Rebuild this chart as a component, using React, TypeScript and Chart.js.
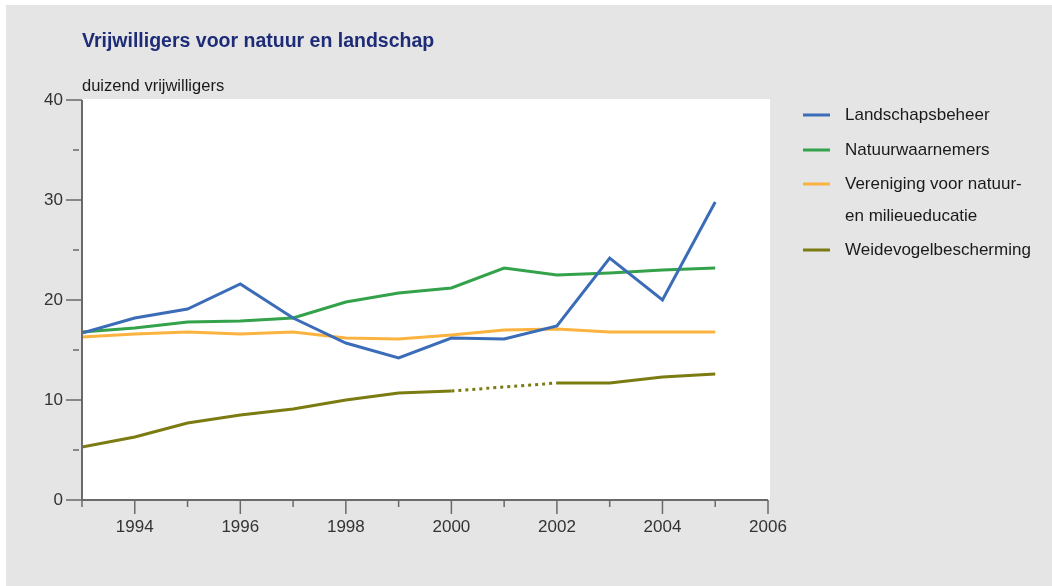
import React, { useEffect, useRef } from 'react';
import { Chart, registerables } from 'chart.js';

Chart.register(...registerables);

const years = [1993, 1994, 1995, 1996, 1997, 1998, 1999, 2000, 2001, 2002, 2003, 2004, 2005];
const landschapsbeheer = [16.7, 18.2, 19.1, 21.6, 18.2, 15.7, 14.2, 16.2, 16.1, 17.4, 24.2, 20.0, 29.8];
const natuurwaarnemers = [16.8, 17.2, 17.8, 17.9, 18.2, 19.8, 20.7, 21.2, 23.2, 22.5, 22.7, 23.0, 23.2];
const verenigingNME = [16.3, 16.6, 16.8, 16.6, 16.8, 16.2, 16.1, 16.5, 17.0, 17.1, 16.8, 16.8, 16.8];
const weidevogelbescherming = [5.3, 6.3, 7.7, 8.5, 9.1, 10.0, 10.7, 10.9, null, 11.7, 11.7, 12.3, 12.6];

const seriesLabels = ['Landschapsbeheer', 'Natuurwaarnemers', 'Vereniging voor natuur- en milieueducatie', 'Weidevogelbescherming'];
const legendLines = [['Landschapsbeheer'], ['Natuurwaarnemers'], ['Vereniging voor natuur-', 'en milieueducatie'], ['Weidevogelbescherming']];
const seriesColors = ['#3b6cb7', '#33a24a', '#fbb33f', '#7b7b12'];

const xMajorTicks = [1994, 1996, 1998, 2000, 2002, 2004, 2006];
const xMinorTicks = [1993, 1995, 1997, 1999, 2001, 2003, 2005];
const yMajorTicks = [0, 10, 20, 30, 40];
const yMinorTicks = [5, 15, 25, 35];

const titleText = 'Vrijwilligers voor natuur en landschap';
const unitText = 'duizend vrijwilligers';

const FONT = '"Liberation Sans", Arial, sans-serif';

const decorPlugin = {
  id: 'decor',
  beforeDraw(chart: any) {
    const { ctx, chartArea: a, width, height } = chart;
    ctx.save();
    ctx.fillStyle = '#ffffff';
    ctx.fillRect(0, 0, width, height);
    ctx.fillStyle = '#e5e5e5';
    ctx.fillRect(6, 5, width - 6, height - 5);
    ctx.fillStyle = '#ffffff';
    ctx.fillRect(a.left, a.top - 1, a.right - a.left + 2, a.bottom - a.top + 1);
    ctx.restore();
  },
  afterDraw(chart: any) {
    const { ctx, chartArea: a } = chart;
    const xs = chart.scales.x;
    const ys = chart.scales.y;
    ctx.save();
    ctx.strokeStyle = '#6a6a6a';
    ctx.lineWidth = 2;
    ctx.beginPath();
    ctx.moveTo(a.left, a.top);
    ctx.lineTo(a.left, a.bottom);
    ctx.lineTo(a.right, a.bottom);
    ctx.stroke();
    ctx.lineWidth = 1.5;
    ctx.beginPath();
    xMajorTicks.forEach((v) => {
      const px = xs.getPixelForValue(v);
      ctx.moveTo(px, a.bottom);
      ctx.lineTo(px, a.bottom + 14);
    });
    xMinorTicks.forEach((v) => {
      const px = xs.getPixelForValue(v);
      ctx.moveTo(px, a.bottom);
      ctx.lineTo(px, a.bottom + 7);
    });
    yMajorTicks.forEach((v) => {
      const py = ys.getPixelForValue(v);
      ctx.moveTo(a.left - 16, py);
      ctx.lineTo(a.left, py);
    });
    yMinorTicks.forEach((v) => {
      const py = ys.getPixelForValue(v);
      ctx.moveTo(a.left - 9, py);
      ctx.lineTo(a.left - 3, py);
    });
    ctx.stroke();

    // title and unit
    ctx.textAlign = 'left';
    ctx.textBaseline = 'alphabetic';
    ctx.fillStyle = '#1e2c78';
    ctx.font = `bold 19.5px ${FONT}`;
    ctx.fillText(titleText, a.left, 47);
    ctx.fillStyle = '#1a1a1a';
    ctx.font = `16.5px ${FONT}`;
    ctx.fillText(unitText, a.left, 91);

    // legend
    const legendY = [115, 150, 184, 250];
    ctx.font = `17px ${FONT}`;
    ctx.textBaseline = 'middle';
    chart.data.datasets.forEach((ds: any, i: number) => {
      const y = legendY[i];
      ctx.strokeStyle = ds.borderColor;
      ctx.lineWidth = 3;
      ctx.beginPath();
      ctx.moveTo(803, y);
      ctx.lineTo(830, y);
      ctx.stroke();
      ctx.fillStyle = '#1a1a1a';
      legendLines[i].forEach((line, j) => {
        ctx.fillText(line, 845, y + j * 32);
      });
    });
    ctx.restore();
  },
};

export default function App() {
  const ref = useRef<HTMLCanvasElement | null>(null);
  useEffect(() => {
    if (!ref.current) return;
    const allSeries = [landschapsbeheer, natuurwaarnemers, verenigingNME, weidevogelbescherming];
    const chart = new Chart(ref.current, {
      type: 'line',
      data: {
        datasets: allSeries.map((vals, i) => ({
          label: seriesLabels[i],
          data: years.map((yr, k) => ({ x: yr, y: vals[k] })),
          borderColor: seriesColors[i],
          backgroundColor: seriesColors[i],
          borderWidth: 3,
          pointRadius: 0,
          tension: 0,
          spanGaps: true,
          segment: {
            borderDash: (c: any) => (c.p0.skip || c.p1.skip ? [3, 4] : undefined),
          },
        })),
      },
      options: {
        responsive: false,
        animation: false,
        devicePixelRatio: 1,
        layout: { padding: { top: 100, left: 0, right: 284, bottom: 0 } },
        plugins: {
          legend: { display: false },
          title: { display: false },
          tooltip: { enabled: false },
        },
        scales: {
          x: {
            type: 'linear',
            min: 1993,
            max: 2006,
            afterFit: (s: any) => { s.height = 86; },
            afterBuildTicks: (s: any) => { s.ticks = xMajorTicks.map((v) => ({ value: v })); },
            grid: { display: false, drawTicks: false },
            border: { display: false },
            ticks: {
              color: '#333333',
              font: { family: FONT, size: 17 },
              padding: 17,
              maxRotation: 0,
              autoSkip: false,
              callback: (v: any) => String(v),
            },
          },
          y: {
            type: 'linear',
            min: 0,
            max: 40,
            afterFit: (s: any) => { s.width = 82; },
            afterBuildTicks: (s: any) => { s.ticks = yMajorTicks.map((v) => ({ value: v })); },
            grid: { display: false, drawTicks: false },
            border: { display: false },
            ticks: {
              color: '#333333',
              font: { family: FONT, size: 17 },
              padding: 19,
              callback: (v: any) => String(v),
            },
          },
        },
      },
      plugins: [decorPlugin],
    } as any);
    return () => chart.destroy();
  }, []);
  return (
    <div style={{ position: 'fixed', left: 0, top: 0, width: 1052, height: 586 }}>
      <canvas ref={ref} width={1052} height={586} style={{ width: 1052, height: 586, display: 'block' }} />
    </div>
  );
}
